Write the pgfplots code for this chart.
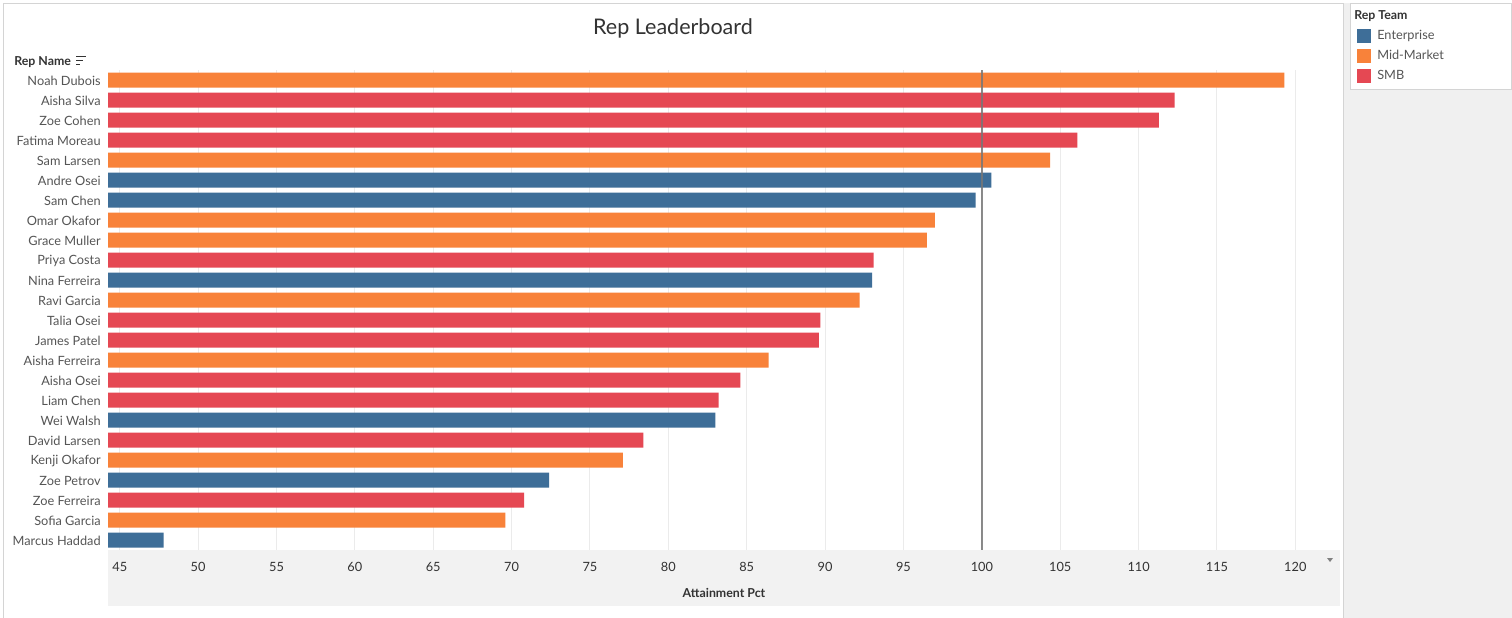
\documentclass[border=0pt]{standalone}
\usepackage{fontspec}
\setmainfont{Lato}
\usepackage{pgfplots}
\pgfplotsset{compat=1.18}

\definecolor{entblue}{HTML}{3E6E98}
\definecolor{midorange}{HTML}{F8823A}
\definecolor{smbred}{HTML}{E54853}
\definecolor{gridgray}{HTML}{EBEBEB}
\definecolor{bandgray}{HTML}{F2F2F2}
\definecolor{panelgray}{HTML}{F0F0F0}
\definecolor{framegray}{HTML}{D4D4D4}
\definecolor{namegray}{HTML}{555555}
\definecolor{darktext}{HTML}{333333}
\definecolor{refgray}{HTML}{777777}

\begin{document}
\begin{tikzpicture}
% page laid out in reference pixels: 1 px = 0.75bp
\begin{scope}[x=0.75bp,y=-0.75bp]
\fill[white] (0,0) rectangle (1512,618);
\fill[panelgray] (1343,3) rectangle (1512,618);
\draw[framegray, line width=0.75bp] (3,618) -- (3,3) -- (1343,3) -- (1343,618);
\fill[white] (1350,3) rectangle (1511,89);
\draw[framegray, line width=0.75bp] (1350.5,3.5) rectangle (1511,89);
\fill[bandgray] (108,550) rectangle (1340,606);
\node[text=darktext, font=\fontsize{16.2}{19}\selectfont] at (673,28) {Rep Leaderboard};
\node[anchor=west, inner sep=0pt, text=darktext, font=\fontsize{9.3}{11}\selectfont\bfseries] at (14,62) {Rep Name};
\draw[darktext, line width=1bp] (76,56.5) -- (86,56.5) (76,60.5) -- (83,60.5) (76,64.5) -- (80,64.5);
\node[text=darktext, font=\fontsize{9.3}{11}\selectfont\bfseries] at (724,593) {Attainment Pct};
\fill[gray] (1327,558) -- (1333,558) -- (1330,562) -- cycle;
\node[anchor=west, inner sep=0pt, text=darktext, font=\fontsize{9.3}{11}\selectfont\bfseries] at (1354,16.5) {Rep Team};
\end{scope}

\begin{axis}[
    at={(81bp,-412.5bp)}, anchor=south west,
    scale only axis, width=924bp, height=360bp,
    xmin=44.25, xmax=122.85,
    ymin=-0.5, ymax=23.5, y dir=reverse,
    axis line style={draw=none},
    tick style={draw=none},
    xtick={45,50,...,120},
    xmajorgrids,
    grid style={color=gridgray, line width=0.75bp},
    ytick={0,...,23},
    yticklabels={Noah Dubois, Aisha Silva, Zoe Cohen, Fatima Moreau, Sam Larsen,
        Andre Osei, Sam Chen, Omar Okafor, Grace Muller, Priya Costa,
        Nina Ferreira, Ravi Garcia, Talia Osei, James Patel, Aisha Ferreira,
        Aisha Osei, Liam Chen, Wei Walsh, David Larsen, Kenji Okafor,
        Zoe Petrov, Zoe Ferreira, Sofia Garcia, Marcus Haddad},
    yticklabel style={text=namegray, font=\fontsize{9.6}{11}\selectfont, xshift=-2bp, yshift=-0.5bp},
    xticklabel style={text=darktext, font=\fontsize{9.6}{11}\selectfont, yshift=-5.5bp},
    /pgf/number format/assume math mode=true,
    legend style={at={(axis description cs:1.0138,1.0917)}, anchor=north west,
        draw=none, fill=none,
        inner sep=0pt, row sep=0pt, column sep=4.5bp,
        nodes={inner sep=0pt, minimum height=15bp},
        font=\fontsize{9.6}{11}\selectfont, text=namegray},
    legend cell align=left,
    legend image code/.code={\fill[#1] (0bp,-5.25bp) rectangle (10.5bp,5.25bp);},
]
% Enterprise
\addplot[xbar, bar width=11.25bp, bar shift=0pt, fill=entblue, draw=none] coordinates {
(100.6,5) (99.6,6) (93.0,10) (83.0,17) (72.4,20) (47.8,23)
};
\addlegendentry{Enterprise}
% Mid-Market
\addplot[xbar, bar width=11.25bp, bar shift=0pt, fill=midorange, draw=none] coordinates {
(119.3,0) (104.35,4) (97.0,7) (96.5,8) (92.2,11) (86.4,14) (77.1,19) (69.6,22)
};
\addlegendentry{Mid-Market}
% SMB
\addplot[xbar, bar width=11.25bp, bar shift=0pt, fill=smbred, draw=none] coordinates {
(112.3,1) (111.3,2) (106.1,3) (93.1,9) (89.7,12) (89.6,13) (84.6,15) (83.2,16) (78.4,18) (70.8,21)
};
\addlegendentry{SMB}
% target line at 100%
\addplot[refgray, opacity=0.85, line width=1.5bp, forget plot] coordinates {(100,-0.5) (100,23.5)};
\end{axis}

\pgfresetboundingbox
\useasboundingbox (0,0) rectangle (1134bp,-463.5bp);
\end{tikzpicture}
\end{document}
